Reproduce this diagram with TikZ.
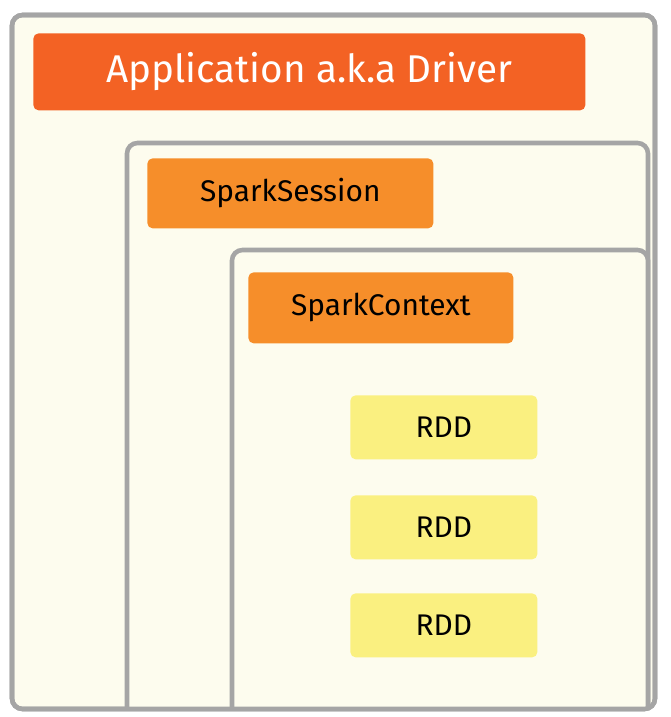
\documentclass[tikz,border=0pt]{standalone}
\usepackage{fontspec}
\setmainfont{Fira Sans}
\begin{document}
\begin{tikzpicture}[x=0.02cm,y=-0.02cm]

		\definecolor{creamBg}{RGB}{253,252,238}
		\definecolor{frameGray}{RGB}{165,165,165}
		\definecolor{driverRed}{RGB}{243,98,36}
		\definecolor{sparkOrange}{RGB}{246,142,42}
		\definecolor{rddYellow}{RGB}{250,240,128}

		\tikzset{
			frame/.style={draw=frameGray, line width=2.6pt, fill=creamBg, rounded corners=6pt},
			tag/.style={rounded corners=3pt, anchor=north west, inner sep=0pt, font=\fontsize{17}{20}\selectfont},
			rdd/.style={tag, fill=rddYellow, minimum width=187*0.02cm, minimum height=64*0.02cm}
		}

		\useasboundingbox (0,0) rectangle (670,717);

		\draw[frame] (12,15) rectangle (655,709);
		\begin{scope}
			\clip (12,15) rectangle (655,708);
			\draw[frame] (127,143) rectangle (648,740);
			\draw[frame] (232,250) rectangle (648,740);
		\end{scope}
		\draw[frameGray, line width=2.6pt, rounded corners=6pt] (12,15) rectangle (655,709);

		\node[tag, fill=driverRed, text=white, minimum width=552*0.02cm, minimum height=77*0.02cm,
			font=\fontsize{22}{26}\selectfont] (driver) at (33,33) {Application a.k.a Driver};
		\node[tag, fill=sparkOrange, minimum width=286*0.02cm, minimum height=70*0.02cm] (session) at (147,158) {SparkSession};
		\node[tag, fill=sparkOrange, minimum width=265*0.02cm, minimum height=71*0.02cm] (context) at (248,272) {SparkContext};

		\node[rdd] (rddA) at (350,395) {RDD};
		\node[rdd] (rddB) at (350,495) {RDD};
		\node[rdd] (rddC) at (350,593) {RDD};

	\end{tikzpicture}
\end{document}
